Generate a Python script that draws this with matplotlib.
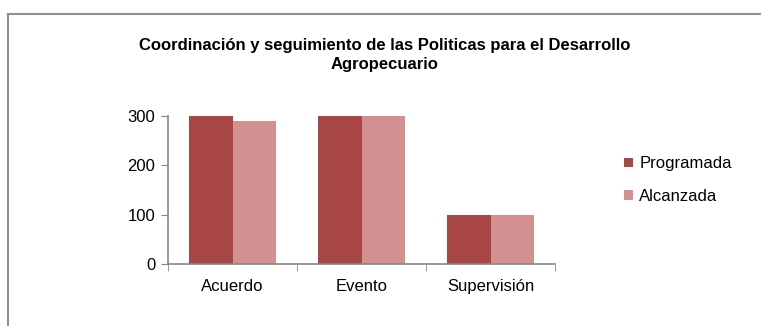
import matplotlib.pyplot as plt
import numpy as np
from matplotlib.lines import Line2D

categories = ["Acuerdo", "Evento", "Supervisión"]
programada = [300, 300, 100]
alcanzada = [290, 300, 100]
series_names = ["Programada", "Alcanzada"]
title = "Coordinación y seguimiento de las Politicas para el Desarrollo\nAgropecuario"

plt.rcParams['font.family'] = ['Liberation Sans', 'DejaVu Sans']

fig = plt.figure(figsize=(7.61, 3.26), dpi=100)
ax = fig.add_axes([168 / 761, 1 - 264 / 326, (555 - 168) / 761, (264 - 116) / 326])

x = np.arange(len(categories))
w = 0.335
ax.bar(x - w / 2, programada, w, color="#A84646", label=series_names[0])
ax.bar(x + w / 2, alcanzada, w, color="#D29090", label=series_names[1])

ax.set_xlim(-0.5, len(categories) - 0.5)
ax.set_ylim(0, 300)
ax.set_yticks([0, 100, 200, 300])
ax.set_xticks(x)
ax.set_xticklabels(categories, fontsize=12)
ax.tick_params(axis='x', length=0, pad=11)
ax.set_xticks(np.arange(len(categories) + 1) - 0.5, minor=True)
ax.tick_params(axis='x', which='minor', length=5, color='#888888', direction='out')
ax.tick_params(axis='y', length=5, color='#888888', direction='out', labelsize=12, pad=4)

for s in ['top', 'right']:
    ax.spines[s].set_visible(False)
for s in ['left', 'bottom']:
    ax.spines[s].set_color('#888888')
    ax.spines[s].set_linewidth(1.2)

fig.text(385 / 761, 1 - 55 / 326, title, ha='center', va='center', fontsize=12,
         fontweight='bold', linespacing=1.4)

ax.legend(loc='center left', bbox_to_anchor=(616 / 761, 1 - 180 / 326),
          bbox_transform=fig.transFigure, frameon=False, borderpad=0,
          handlelength=0.5, handleheight=0.5, handletextpad=0.4, labelspacing=1.05,
          prop={'size': 12})

fig.add_artist(Line2D([8 / 761, 8 / 761], [0, 1 - 14 / 326], transform=fig.transFigure,
                      color='#909090', lw=1.5))
fig.add_artist(Line2D([8 / 761, 1], [1 - 14 / 326, 1 - 14 / 326], transform=fig.transFigure,
                      color='#909090', lw=1.5))

fig.savefig("out.png", dpi=100)
